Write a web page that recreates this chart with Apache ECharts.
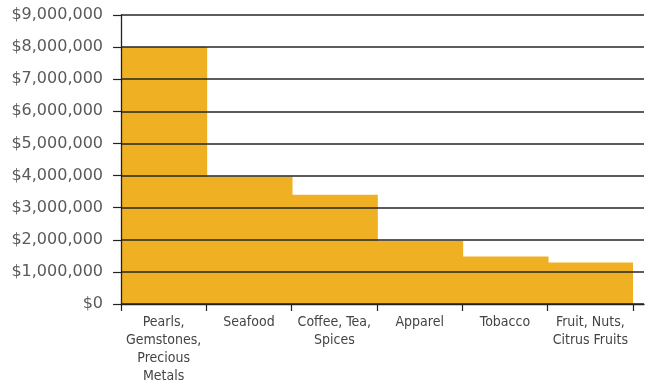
<!DOCTYPE html>
<html>
<head>
<meta charset="utf-8">
<script src="https://cdn.jsdelivr.net/npm/echarts@6/dist/echarts.min.js"></script>
<style>
  html, body { margin: 0; padding: 0; background: #fff; }
  #chart { width: 651px; height: 388px; }
</style>
</head>
<body>
<div id="chart"></div>
<script>
// categories and values
const categories = ['Pearls,\nGemstones,\nPrecious\nMetals', 'Seafood', 'Coffee, Tea,\nSpices', 'Apparel', 'Tobacco', 'Fruit, Nuts,\nCitrus Fruits'];
const values = [8000000, 3970000, 3400000, 1970000, 1480000, 1290000];
const yTicks = [0, 1000000, 2000000, 3000000, 4000000, 5000000, 6000000, 7000000, 8000000, 9000000];

const chart = echarts.init(document.getElementById('chart'));

const fmt = v => '$' + v.toLocaleString('en-US');

chart.setOption({
    animation: false,
    grid: [
        // bars
        {left: 121, right: 18, top: 15, bottom: 84},
        // grid lines, reach further right
        {left: 121, right: 7, top: 15, bottom: 84}
    ],
    xAxis: [
        {
            type: 'category',
            gridIndex: 0,
            data: categories,
            axisLine: {show: false},
            axisTick: {show: true, interval: 0, length: 7, lineStyle: {color: '#222', width: 1.2}},
            axisLabel: {
                interval: 0,
                color: '#444',
                fontFamily: 'DejaVu Sans Condensed, sans-serif',
                fontSize: 14,
                lineHeight: 18,
                margin: 9
            },
            splitLine: {show: false}
        },
        {
            type: 'value',
            gridIndex: 1,
            min: 0, max: 1,
            axisLine: {show: true, lineStyle: {color: '#222', width: 1.3}},
            axisTick: {show: false},
            axisLabel: {show: false},
            splitLine: {show: false},
            z: 5
        }
    ],
    yAxis: [
        {
            type: 'value',
            gridIndex: 0,
            min: 0, max: 9000000, interval: 1000000,
            show: false
        },
        {
            type: 'value',
            gridIndex: 1,
            min: yTicks[0], max: yTicks[yTicks.length - 1], interval: 1000000,
            axisLine: {show: true, lineStyle: {color: '#222', width: 1.3}},
            axisTick: {show: true, inside: false, length: 8, lineStyle: {color: '#222', width: 1.2}},
            axisLabel: {
                color: '#5a5a5a',
                fontFamily: 'DejaVu Sans, sans-serif',
                fontSize: 16,
                margin: 18,
                formatter: fmt
            },
            splitLine: {show: true, lineStyle: {color: '#262626', width: 1.5}},
            z: 5
        }
    ],
    series: [
        {
            type: 'bar',
            xAxisIndex: 0,
            yAxisIndex: 0,
            data: values,
            barWidth: 87,
            itemStyle: {color: '#F0B023'}
        }
    ]
});
</script>
</body>
</html>
